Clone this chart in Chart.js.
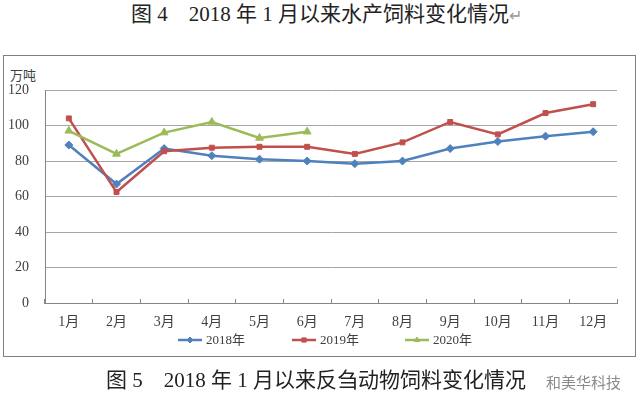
<!DOCTYPE html>
<html>
<head>
<meta charset="utf-8">
<script src="https://cdn.jsdelivr.net/npm/chart.js@4/dist/chart.umd.min.js"></script>
<style>
  html, body { margin: 0; padding: 0; background: #fff; }
  body { width: 642px; height: 407px; position: relative; overflow: hidden;
         font-family: "Liberation Serif", "Noto Sans CJK SC", serif; color: #222; }
  .cap { position: absolute; font-size: 21px; white-space: pre; line-height: 1; }
  #box { position: absolute; left: 3px; top: 55px; width: 631px; height: 300px; border: 1px solid #7f7f7f; }
  #unit { position: absolute; left: 10px; top: 65px; font-size: 13px; color: #404040; }
  #mark { position: absolute; left: 546px; top: 371px; font-size: 15px; color: #8a8a8a; font-family: "Noto Sans CJK SC", sans-serif; }
  canvas { position: absolute; left: 0; top: 0; }
</style>
</head>
<body>
<div class="cap" style="left:131px; top:4px;">图 4    2018 年 1 月以来水产饲料变化情况<span style="color:#999;font-size:16px">↵</span></div>
<div id="box"></div>
<div id="unit">万吨</div>
<canvas id="chart" width="642" height="407"></canvas>
<div class="cap" style="left:106px; top:370px;">图 5    2018 年 1 月以来反刍动物饲料变化情况</div>
<div id="mark">和美华科技</div>
<script>
const months = ["1月", "2月", "3月", "4月", "5月", "6月", "7月", "8月", "9月", "10月", "11月", "12月"];
const feed2018 = [89, 67, 87, 83, 81, 80, 78.5, 80, 87, 91, 94, 96.5];
const feed2019 = [104, 62.5, 85.5, 87.5, 88, 88, 84, 90.5, 102, 95, 107, 112];
const feed2020 = [97, 84, 96, 102, 93, 96.5];
const seriesNames = ["2018年", "2019年", "2020年"];
const yTicks = [0, 20, 40, 60, 80, 100, 120];

const tickFont = { family: '"Liberation Serif", "Noto Sans CJK SC", serif', size: 14 };
const legendX = [178, 292, 405];

// excel-style legend: short line with the marker on it
const bottomLegend = {
  id: "bottomLegend",
  afterDraw(chart) {
    const ctx = chart.ctx;
    const y = 340;
    ctx.save();
    ctx.font = '13px "Liberation Serif", "Noto Sans CJK SC", serif';
    ctx.textBaseline = "middle";
    chart.data.datasets.forEach((ds, i) => {
      const x = legendX[i];
      ctx.strokeStyle = ds.borderColor;
      ctx.lineWidth = 2.5;
      ctx.beginPath();
      ctx.moveTo(x, y);
      ctx.lineTo(x + 24, y);
      ctx.stroke();
      ctx.fillStyle = ds.borderColor;
      ctx.lineWidth = 1;
      Chart.helpers.drawPoint(ctx, { pointStyle: ds.pointStyle, radius: 3, rotation: 0, borderWidth: 1 }, x + 12, y);
      ctx.fillStyle = "#404040";
      ctx.fillText(ds.label, x + 28, y + 1);
    });
    ctx.restore();
  }
};

function series(label, data, color, style, radius, order) {
  return {
    label: label,
    data: data,
    borderColor: color,
    backgroundColor: color,
    borderWidth: 2.5,
    pointStyle: style,
    pointRadius: radius,
    pointHoverRadius: radius,
    pointBorderWidth: 1,
    tension: 0,
    order: order
  };
}

new Chart(document.getElementById("chart").getContext("2d"), {
  type: "line",
  data: {
    labels: months,
    datasets: [
      series(seriesNames[0], feed2018, "#4f81bd", "rectRot", 4, 2),
      series(seriesNames[1], feed2019, "#c0504d", "rect", 3.5, 1),
      series(seriesNames[2], feed2020, "#9bbb59", "triangle", 4.5, 0)
    ]
  },
  options: {
    responsive: false,
    animation: false,
    layout: { padding: { left: 0, top: 90, right: 25, bottom: 74 } },
    plugins: { legend: { display: false }, tooltip: { enabled: false } },
    scales: {
      x: {
        offset: true,
        afterFit: s => { s.height = 30; },
        grid: { offset: true, drawOnChartArea: false, drawTicks: true, tickLength: -4, tickColor: "#868686" },
        border: { color: "#868686", width: 1 },
        ticks: { font: tickFont, color: "#404040", padding: 15, maxRotation: 0, autoSkip: false }
      },
      y: {
        min: 0,
        max: 120,
        afterFit: s => { s.width = 45; },
        afterBuildTicks: s => { s.ticks = yTicks.map(v => ({ value: v })); },
        grid: { color: "#a6a6a6", drawTicks: false },
        border: { color: "#868686", width: 1 },
        ticks: { font: tickFont, color: "#404040", padding: 16 }
      }
    }
  },
  plugins: [bottomLegend]
});
</script>
</body>
</html>
